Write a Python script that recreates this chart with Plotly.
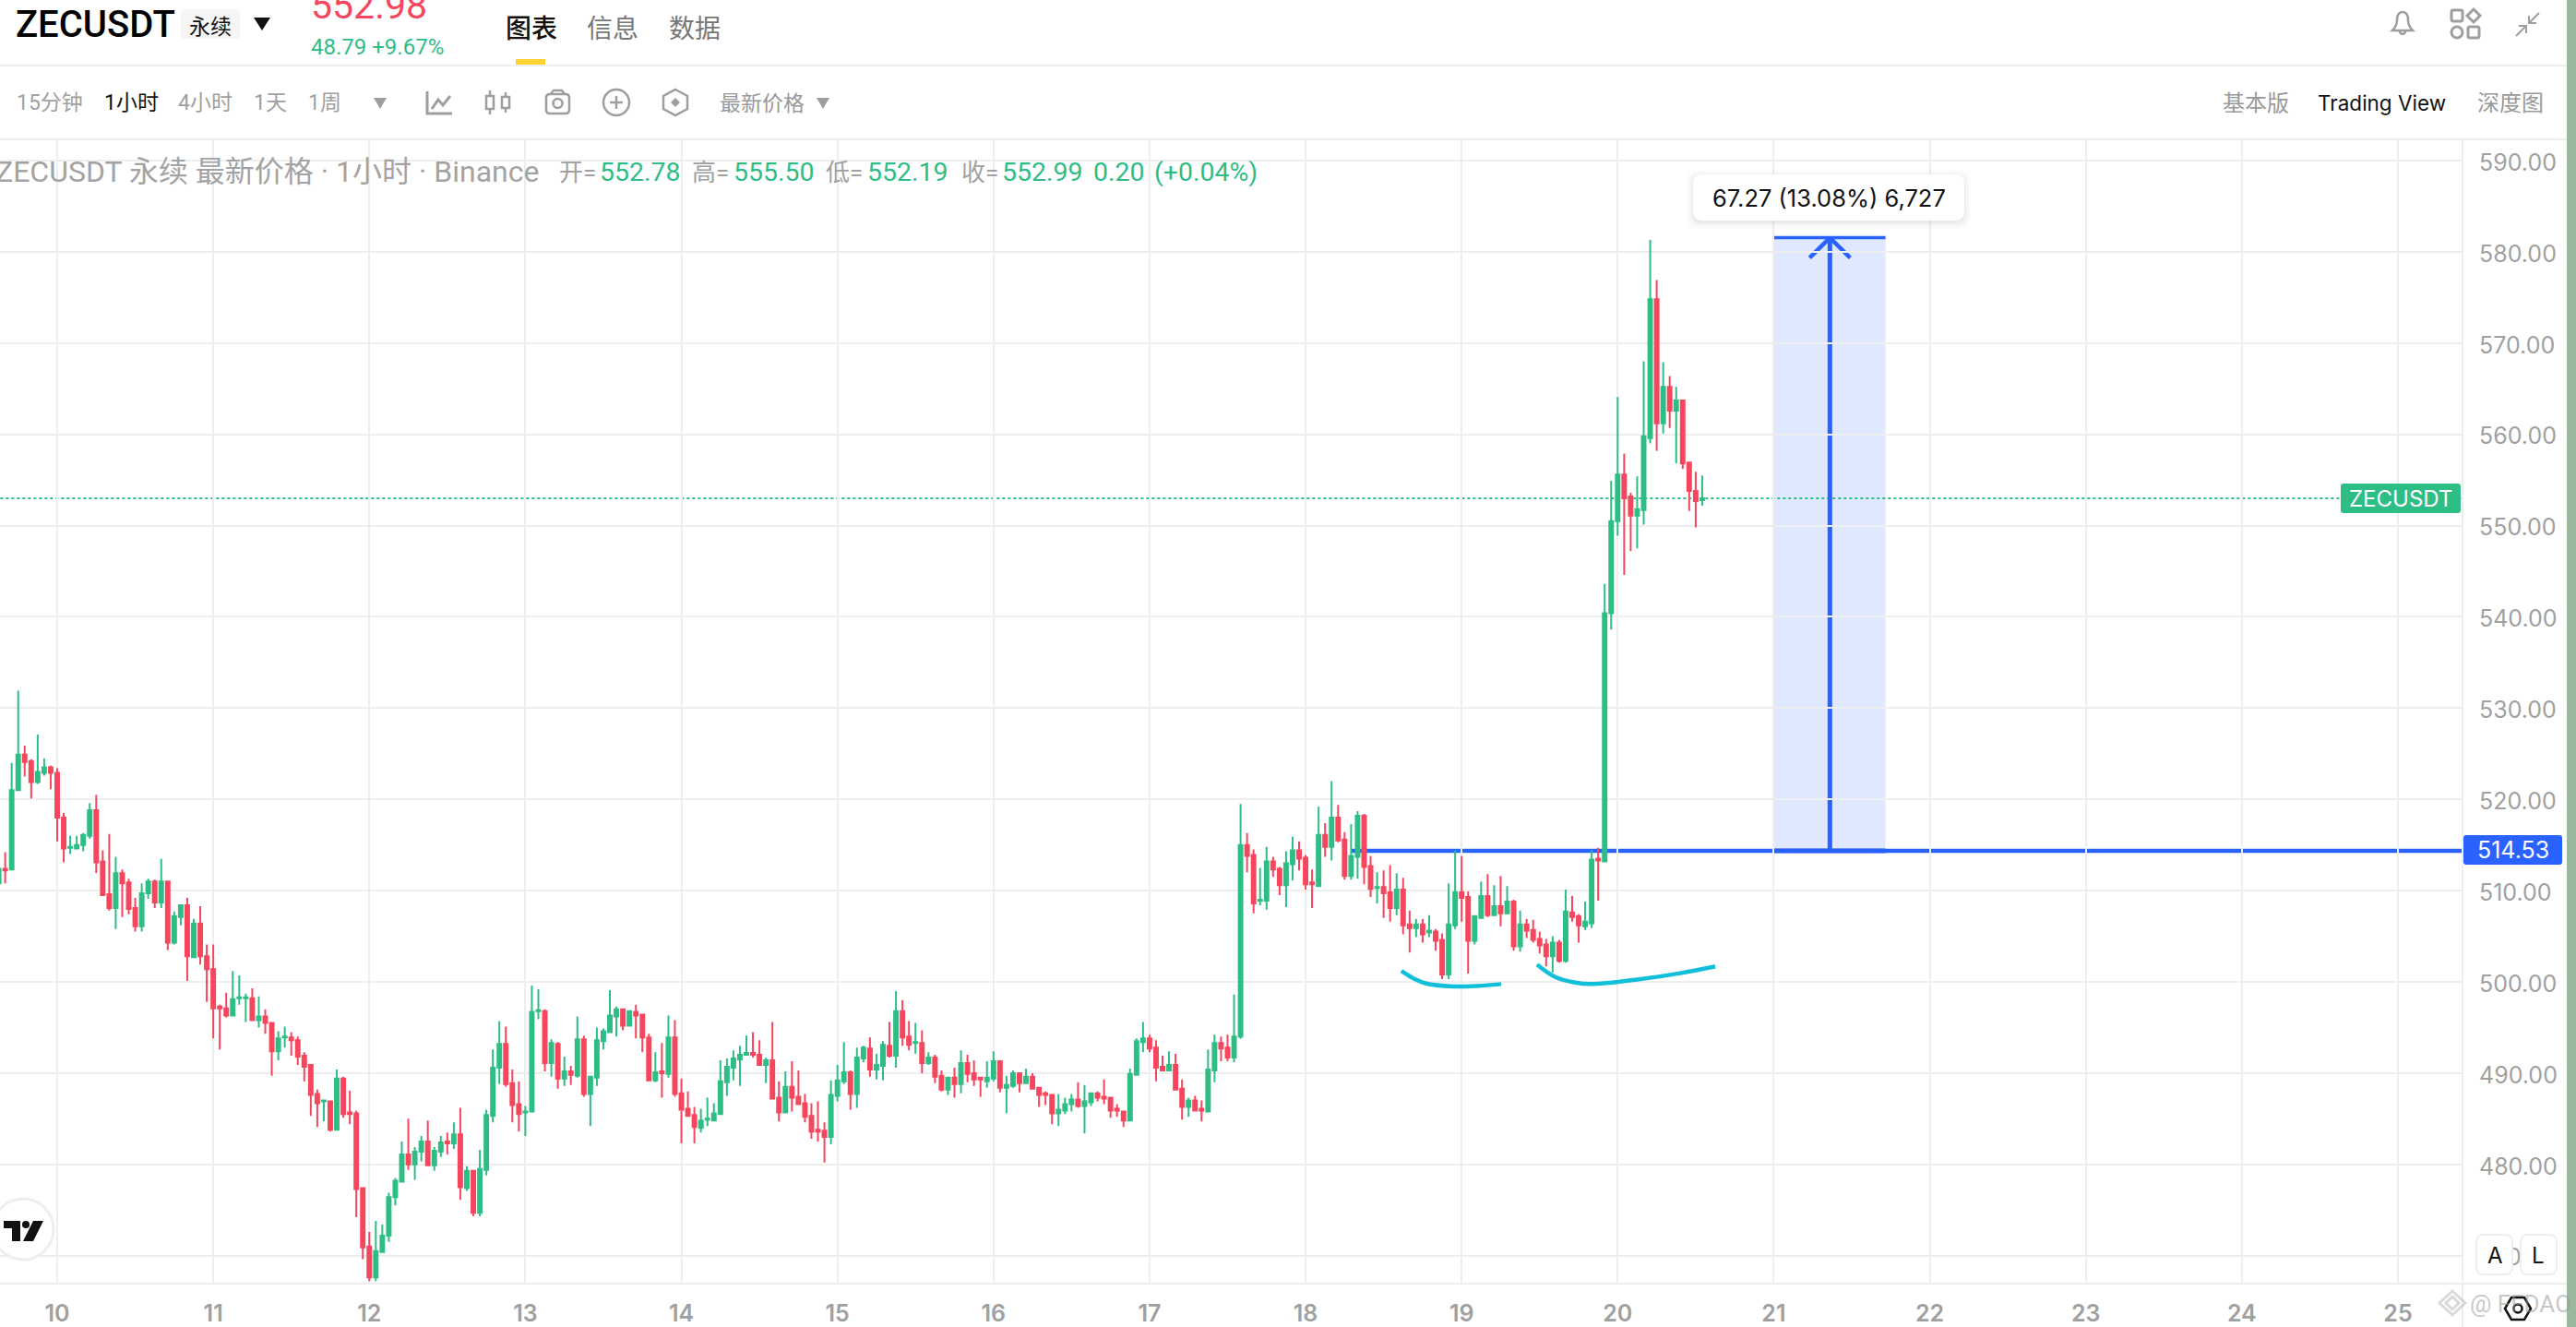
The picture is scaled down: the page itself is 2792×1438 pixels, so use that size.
import re
from datetime import datetime, timedelta
import pandas as pd
import plotly.graph_objects as go

W, H = 2792, 1438
GREEN, RED, BLUE, GRID = "#2EBD85", "#F6465D", "#2962FF", "#EEEEEE"
GRAY = "#A0A0A0"
CJK = "Inter, 'Noto Sans CJK SC', sans-serif"

first_bar = "2025-11-09 15:00"
opens = [510.8,512.4,512.3,521.0,524.9,524.2,521.9,522.9,523.5,522.9,
518.0,514.7,514.6,515.0,516.0,518.8,513.2,509.6,508.1,511.9,
510.9,508.1,506.1,509.7,511.0,508.7,511.0,504.3,507.1,508.4,
502.7,506.4,502.8,501.4,497.3,497.1,496.3,498.2,498.2,498.2,
495.8,496.2,495.5,492.4,493.9,493.9,493.6,491.9,490.9,487.7,
486.9,486.9,483.8,489.4,485.7,485.6,477.4,471.0,467.6,470.4,
472.2,476.4,478.1,481.1,480.0,481.4,482.5,479.9,481.4,482.5,
482.3,483.3,477.4,479.3,474.7,479.4,485.3,490.6,493.2,488.9,
486.6,485.7,485.8,496.8,496.8,491.1,493.2,489.4,490.2,489.7,
493.7,487.7,489.5,493.5,494.5,496.2,497.0,495.2,496.7,496.4,
493.9,489.2,490.2,489.9,493.9,487.8,486.1,485.4,484.0,484.9,
484.8,485.5,489.0,490.6,491.5,492.0,492.2,492.0,490.9,491.4,
487.3,485.7,488.5,487.4,486.7,485.3,483.8,483.7,483.0,487.5,
489.1,490.1,487.7,491.6,492.7,490.4,490.8,493.0,491.9,496.8,
494.0,493.3,493.3,491.1,491.7,489.7,488.2,489.5,488.8,491.1,
490.0,489.5,489.1,489.4,491.3,488.4,488.6,490.0,488.9,489.6,
488.4,487.8,487.6,485.6,485.9,486.6,487.1,486.4,486.8,487.8,
487.4,487.3,486.1,485.8,484.8,489.8,493.4,493.8,492.8,490.7,
490.3,490.9,488.3,486.3,487.0,486.1,485.8,490.3,493.3,492.8,
491.7,494.0,515.0,513.9,508.9,508.9,513.2,512.4,510.6,512.9,
514.4,513.6,510.9,510.5,516.1,514.8,518.0,515.6,511.6,513.7,
518.2,512.7,510.3,510.4,509.8,508.1,510.1,506.3,505.9,506.3,
505.4,505.5,504.6,500.8,506.2,509.8,509.3,504.5,507.0,509.4,
507.3,508.3,507.5,508.8,503.9,506.3,505.7,504.7,504.1,502.8,
504.3,502.3,507.6,507.2,506.1,506.4,513.5,513.2,540.4,550.5,
555.6,553.2,551.1,551.7,559.6,574.8,561.2,565.2,562.6,563.7,
556.9,553.8,552.78]
highs = [512.4,514.2,524.0,531.9,525.9,524.4,527.1,524.5,523.7,523.4,
518.5,516.0,516.0,516.3,519.6,520.5,514.4,516.2,513.7,512.3,
511.3,509.2,510.8,511.3,511.2,513.5,511.1,507.7,508.4,509.2,
506.9,508.3,504.1,504.1,497.5,498.8,501.2,500.7,498.7,499.3,
498.4,497.0,495.5,494.6,495.1,494.5,494.0,492.3,491.0,488.2,
487.1,486.9,490.4,489.6,488.1,485.9,477.5,472.6,473.8,473.4,
476.9,478.5,482.5,485.0,481.9,483.1,484.8,481.9,483.1,483.5,
484.6,486.2,479.8,479.4,481.6,486.0,492.6,495.7,495.1,490.4,
489.1,486.4,499.6,499.2,497.0,493.7,493.4,491.8,490.8,496.2,
494.1,489.7,495.0,494.9,499.1,497.3,497.1,496.9,497.5,496.5,
494.3,492.3,493.3,496.3,495.8,489.4,488.0,486.3,486.1,487.3,
486.7,491.4,491.6,492.5,493.0,494.1,494.5,493.6,491.7,495.6,
489.1,490.2,491.3,490.3,487.7,486.7,486.9,484.6,489.2,490.9,
493.4,490.3,492.8,493.0,493.9,492.1,493.5,495.6,499.0,498.0,
495.7,495.5,494.7,492.3,492.0,490.3,489.5,490.6,492.5,492.0,
491.4,489.6,491.3,492.4,491.4,489.7,490.3,490.0,490.5,490.0,
488.5,488.0,487.6,487.7,487.3,487.7,489.0,488.7,487.9,488.0,
489.3,487.4,486.6,485.9,490.5,493.8,495.6,494.2,493.6,491.9,
492.4,492.1,489.3,487.3,487.5,487.0,492.6,494.2,494.0,494.2,
498.6,519.5,516.3,514.5,512.5,514.8,513.7,512.6,514.3,515.9,
515.4,513.9,512.3,519.2,517.4,522.0,519.4,516.4,517.3,518.7,
518.4,513.8,512.0,512.2,512.8,511.9,511.4,507.8,506.9,506.9,
507.3,505.8,505.3,510.8,514.4,513.8,509.9,507.3,511.0,511.8,
510.6,511.6,510.5,509.0,507.8,506.9,506.8,505.5,504.7,505.0,
504.6,510.1,509.4,507.4,508.8,514.4,514.7,543.6,554.9,564.1,
557.9,553.6,555.4,568.0,581.3,576.9,567.9,566.4,565.2,563.8,
556.9,555.9,555.50]
lows = [509.5,510.8,512.3,521.0,522.5,520.1,521.7,522.6,521.1,515.4,
513.1,514.0,514.5,514.3,515.7,511.9,509.4,507.8,505.8,507.1,
507.4,505.5,505.5,509.1,508.1,508.1,503.5,504.1,506.2,500.1,
502.6,501.9,497.8,493.8,492.6,496.1,496.3,497.5,495.6,495.8,
495.0,494.3,489.7,491.4,492.8,491.9,490.9,489.1,485.3,484.1,
484.7,483.6,483.8,485.1,484.4,474.2,469.6,467.2,467.2,470.4,
471.5,475.5,478.1,479.4,478.3,480.3,479.9,479.3,480.8,481.1,
481.7,476.1,477.1,474.3,474.3,478.8,484.6,488.8,488.5,484.6,
483.6,483.1,485.7,495.9,490.2,489.6,488.3,488.6,488.7,489.5,
487.4,484.2,488.6,492.6,494.4,494.0,494.7,495.2,493.8,492.3,
489.2,489.0,487.3,489.5,487.4,482.3,485.3,482.3,483.5,484.2,
484.8,485.4,487.5,489.2,488.6,492.0,491.7,490.8,488.9,487.1,
484.7,485.6,485.8,486.6,484.6,482.8,482.5,480.2,482.2,486.9,
488.8,486.0,486.2,491.2,489.6,489.3,489.2,491.7,490.6,493.0,
492.5,492.1,490.0,490.9,488.9,488.0,487.6,487.3,487.8,489.0,
488.6,487.4,488.4,489.1,487.9,485.6,488.4,487.9,488.8,488.3,
486.3,486.5,484.4,484.2,485.5,485.8,486.2,483.4,486.4,486.9,
486.6,485.1,485.2,484.1,484.8,489.8,492.3,492.3,489.1,490.2,
490.3,488.1,484.9,485.2,485.9,484.7,485.8,489.0,491.3,491.3,
491.2,493.75,512.0,507.5,508.4,507.9,511.5,509.5,508.2,511.1,
512.2,510.1,508.1,510.5,513.7,513.3,515.3,511.2,511.2,511.3,
510.7,509.3,508.6,507.0,506.6,507.3,505.2,503.2,504.9,504.3,
504.9,503.4,500.3,500.3,505.8,506.6,500.9,504.1,507.0,507.1,
507.3,506.1,507.5,503.4,503.3,504.8,504.3,503.1,501.7,501.0,
502.1,502.1,506.6,504.3,505.7,505.9,508.9,513.2,538.6,548.9,
544.6,547.2,547.5,550.1,559.0,558.2,560.1,560.7,556.8,556.2,
551.6,549.8,552.19]
closes = [512.4,512.2,521.0,524.9,524.1,521.9,523.0,523.5,522.9,518.0,
514.6,514.8,515.0,516.1,518.8,513.1,509.5,508.1,511.9,510.8,
508.0,506.1,509.7,511.0,508.7,511.0,504.3,507.2,508.4,502.8,
506.4,502.8,501.4,497.1,497.1,496.3,498.1,498.3,498.3,495.8,
496.2,495.5,492.4,493.8,494.0,493.6,491.8,490.7,487.6,486.7,
487.0,483.8,489.4,485.5,485.5,477.3,470.9,467.6,470.5,472.2,
476.4,478.2,481.1,480.0,481.4,482.5,479.9,481.5,482.4,482.3,
483.3,477.5,479.3,474.7,479.5,485.4,490.6,493.2,488.8,486.5,
485.5,485.8,496.7,496.9,491.1,493.3,489.4,490.2,489.8,493.7,
487.7,489.6,493.6,494.6,496.3,497.0,495.2,496.8,496.3,493.9,
489.2,490.1,490.0,493.9,487.7,486.0,485.3,484.1,484.8,485.0,
485.6,489.1,490.7,491.6,492.0,492.2,492.0,490.9,491.4,487.2,
485.7,488.5,487.3,486.6,485.2,483.6,483.6,483.0,487.6,489.2,
490.1,487.7,491.7,492.8,490.4,490.9,493.1,491.9,496.8,493.9,
493.1,493.4,491.1,491.7,489.6,488.2,489.5,488.8,491.1,489.9,
489.3,489.3,489.5,491.3,488.4,488.7,490.0,488.9,489.6,488.3,
487.6,487.6,485.6,486.0,486.6,487.1,486.4,486.9,487.8,487.3,
487.2,485.9,485.9,484.8,489.9,493.5,493.8,492.7,490.6,490.3,
490.9,488.2,486.3,487.0,485.9,485.9,490.4,493.3,492.7,491.7,
494.0,515.0,513.8,508.6,509.0,513.2,512.3,510.6,513.0,514.4,
513.5,510.7,510.7,516.1,514.8,518.0,515.5,511.6,513.8,518.2,
512.6,510.2,510.4,509.7,508.1,510.1,506.2,505.9,506.3,505.2,
505.6,504.5,500.8,506.3,509.8,509.2,504.5,507.2,509.4,507.3,
508.3,507.5,508.8,503.9,506.3,505.6,504.6,504.0,502.8,504.3,
502.3,507.7,507.1,506.2,506.6,513.4,513.3,540.4,550.5,555.6,
553.0,551.1,551.8,559.8,574.8,561.2,565.2,562.6,563.7,556.8,
553.8,552.7,552.99]
assert len(opens) == len(highs) == len(lows) == len(closes) == 263

day_ticks = list(range(10, 26))
price_ticks = list(range(470, 600, 10))
last_price = 552.98
level = 514.35
measure_top = 581.55
measure_days = (21.0, 21.716, 21.36)
head_dx, head_dy = 0.13, 2.2
level_start_day = 18.29
curve_a_days = [18.614, 18.70, 18.767, 18.948, 19.10, 19.253]
curve_a_prices = [501.2, 500.3, 499.85, 499.5, 499.55, 499.76]
curve_b_days = [19.483, 19.603, 19.72, 19.828, 20.144, 20.40, 20.625]
curve_b_prices = [501.9, 500.5, 499.95, 499.76, 500.3, 500.95, 501.7]


def day(d):
    return datetime(2025, 11, 1) + timedelta(days=d - 1)


times = pd.date_range(first_bar, periods=len(opens), freq="h")

fig = go.Figure()
fig.add_trace(go.Candlestick(
    x=times, open=opens, high=highs, low=lows, close=closes,
    increasing=dict(line=dict(color=GREEN, width=2), fillcolor=GREEN),
    decreasing=dict(line=dict(color=RED, width=2), fillcolor=RED),
    whiskerwidth=0, showlegend=False, hoverinfo="skip"))
for ds, ps in ((curve_a_days, curve_a_prices), (curve_b_days, curve_b_prices)):
    fig.add_trace(go.Scatter(x=[day(d) for d in ds], y=ps, mode="lines", showlegend=False,
                             hoverinfo="skip", line=dict(color="#12BFDB", width=4.5, shape="spline", smoothing=1)))


def pth(s):
    out, i = [], 0
    for t in re.findall(r"[A-Za-z]|-?\d+\.?\d*", s):
        if t.isalpha():
            out.append(t)
        else:
            v = float(t)
            out.append(f"{(v / W if i % 2 == 0 else 1 - v / H):.6f}")
            i += 1
    return " ".join(out)


shapes, notes = [], []


def path(s, line=None, width=2, fill=None, layer="above"):
    shapes.append(dict(type="path", xref="paper", yref="paper", path=pth(s), layer=layer,
                       line=dict(color=line or "rgba(0,0,0,0)", width=width if line else 0),
                       fillcolor=fill or "rgba(0,0,0,0)"))


def rrect(x0, y0, x1, y1, r):
    return (f"M{x0+r} {y0} L{x1-r} {y0} Q{x1} {y0} {x1} {y0+r} L{x1} {y1-r} Q{x1} {y1} {x1-r} {y1} "
            f"L{x0+r} {y1} Q{x0} {y1} {x0} {y1-r} L{x0} {y0+r} Q{x0} {y0} {x0+r} {y0} Z")


def circle(cx, cy, r, line=None, width=2, fill=None):
    shapes.append(dict(type="circle", xref="paper", yref="paper", x0=(cx - r) / W, x1=(cx + r) / W,
                       y0=1 - (cy + r) / H, y1=1 - (cy - r) / H, layer="above",
                       line=dict(color=line or "rgba(0,0,0,0)", width=width if line else 0),
                       fillcolor=fill or "rgba(0,0,0,0)"))


def rect(x0, y0, x1, y1, fill):
    shapes.append(dict(type="rect", xref="paper", yref="paper", x0=x0 / W, x1=x1 / W,
                       y0=1 - y1 / H, y1=1 - y0 / H, fillcolor=fill, line=dict(width=0), layer="above"))


def txt(x, y, s, size, color, anchor="left", weight=400, family=CJK, bg=None):
    notes.append(dict(xref="paper", yref="paper", x=x / W, y=1 - y / H, text=s, showarrow=False,
                      xanchor=anchor, yanchor="middle", borderpad=0, bgcolor=bg,
                      font=dict(size=size, color=color, family=family, weight=weight)))


def data_line(x0, y0, x1, y1, color, width, dash=None):
    shapes.append(dict(type="line", xref="x", yref="y", x0=x0, y0=y0, x1=x1, y1=y1, layer="below",
                       line=dict(color=color, width=width, dash=dash)))


# chart drawings
x_left, x_right, x_mid = [day(d) for d in measure_days]
shapes.append(dict(type="rect", xref="x", yref="y", x0=x_left, x1=x_right, y0=level, y1=measure_top,
                   layer="below", fillcolor="rgba(41,98,255,0.15)", line=dict(width=0)))
data_line(day(9.6), last_price, day(25.5), last_price, GREEN, 2, "dot")
data_line(day(level_start_day), level, day(25.5), level, BLUE, 4.5)
data_line(x_left, measure_top, x_right, measure_top, BLUE, 3.5)
data_line(x_left, level, x_right, level, BLUE, 5)
data_line(x_mid, level, x_mid, measure_top, BLUE, 5)
data_line(day(measure_days[2] - head_dx), measure_top - head_dy, x_mid, measure_top, BLUE, 4.5)
data_line(day(measure_days[2] + head_dx), measure_top - head_dy, x_mid, measure_top, BLUE, 4.5)

# frame
LINE = "#EEEEEE"
rect(0, 70, 2782, 72, LINE)
rect(0, 150, 2782, 152, LINE)
rect(0, 1390, 2782, 1392, LINE)
rect(2668, 151, 2670, 1438, LINE)
rect(2782, 0, 2792, 1438, "#9BB89C")

# header row
txt(16, 27, "ZECUSDT", 40, "#000000", weight=500, family="Roboto")
path(rrect(196, 10, 260, 42, 5), fill="#F5F5F5")
txt(228, 27, "永续", 23, "#111111", "center", family="Noto Sans CJK SC")
path("M275 19 L293 19 L284 33 Z", fill="#111111")
txt(336, 6, "552.98", 41, RED, family="Roboto")
txt(336, 51, "48.79 +9.67%", 24, GREEN, family="Roboto")
txt(547, 29, "图表", 28, "#111111", weight=500, family="Noto Sans CJK SC")
txt(635, 29, "信息", 28, "#777777", family="Noto Sans CJK SC")
txt(724, 29, "数据", 28, "#777777", family="Noto Sans CJK SC")
rect(559, 64, 591, 70, "#FCD535")

# toolbar row
ICON = "#9E9E9E"
for x, s, c in ((17, "15分钟", GRAY), (112, "1小时", "#111111"), (192, "4小时", GRAY), (274, "1天", GRAY), (333, "1周", GRAY)):
    txt(x, 111, s, 23, c, family="Roboto, 'Noto Sans CJK SC'")
path("M405 106 L419 106 L412 118 Z", fill=ICON)
path("M463 99 L463 123 L490 123 M468 118 L475 108 L480 114 L488 104", line=ICON, width=3)
path("M531 98 L531 124 M548 100 L548 122", line=ICON, width=2.5)
path("M527 104 L535 104 L535 118 L527 118 Z M544 105 L552 105 L552 117 L544 117 Z", line=ICON, width=2.5, fill="#FFFFFF")
path(rrect(592, 102, 617, 123, 4), line=ICON, width=2.5)
path("M597 102 L600 98 L609 98 L612 102", line=ICON, width=2.5)
circle(604.5, 112, 5, line=ICON, width=2.5)
circle(668, 111, 14, line=ICON, width=2.5)
path("M661 111 L675 111 M668 104 L668 118", line=ICON, width=2.5)
path("M732 97 L745 104 L745 118 L732 125 L719 118 L719 104 Z", line=ICON, width=2.5)
path("M732 106 L737 111 L732 116 L727 111 Z", fill=ICON)
txt(779, 110, "最新价格", 23, "#999999", family="Noto Sans CJK SC")
path("M885 106 L899 106 L892 118 Z", fill=ICON)
txt(2408, 110, "基本版", 24, "#999999", family="Noto Sans CJK SC")
txt(2511, 112, "Trading View", 22.5, "#111111", family="Inter")
txt(2684, 110, "深度图", 24, "#999999", family="Noto Sans CJK SC")

# top right icons
path("M2593 33 Q2598 28 2598 22 Q2598 13 2604 13 Q2610 13 2610 22 Q2610 28 2615 33 Z M2600 33 Q2604 41 2608 33", line=ICON, width=2.5)
path(rrect(2657, 11, 2669, 23, 2), line=ICON, width=3)
path("M2681 10 L2688 17 L2681 24 L2674 17 Z", line=ICON, width=3)
circle(2663, 35, 6, line=ICON, width=3)
path(rrect(2675, 29, 2687, 41, 2), line=ICON, width=3)
path("M2752 14 L2741 25 M2741 17 L2741 25 L2749 25 M2727 39 L2738 28 M2730 28 L2738 28 L2738 36", line=ICON, width=2)

# legend row
txt(-6, 186, "ZECUSDT 永续 最新价格 · 1小时 · Binance", 32, "#A3A3A3", family="Roboto, 'Noto Sans CJK SC'")
for x, s in ((605, "开="), (749, "高="), (894, "低="), (1041, "收=")):
    txt(x, 187, s, 26, GRAY, family="Roboto, 'Noto Sans CJK SC'")
for x, s in ((649, "552.78"), (794, "555.50"), (939, "552.19"), (1085, "552.99"), (1184, "0.20"), (1250, "(+0.04%)")):
    txt(x, 187, s, 28.5, GREEN, family="Roboto")

# tooltip
for grow, alpha in ((7, 0.012), (5, 0.015), (3, 0.02), (1, 0.03)):
    path(rrect(1835 - grow, 189 - grow + 2, 2129 + grow, 239 + grow + 2, 10), fill=f"rgba(0,0,0,{alpha})")
path(rrect(1835, 189, 2129, 239, 10), fill="#FFFFFF")
txt(1982, 214, "67.27 (13.08%) 6,727", 25.5, "#111111", "center", family="Inter")

# price tags
path(rrect(2537, 524, 2667, 556, 3), fill=GREEN)
txt(2602, 540, "ZECUSDT", 24, "#FFFFFF", "center", family="Inter")
path(rrect(2670, 905, 2777, 937, 3), fill=BLUE)
txt(2724, 921, "514.53", 25, "#FFFFFF", "center", family="Inter")

# TradingView badge
circle(25, 1332, 33, line="#EEEEEE", width=3, fill="#FFFFFF")
path("M4 1323 L22 1323 L22 1345 L13 1345 L13 1331 L4 1331 Z", fill="#111111")
circle(28, 1327, 4, fill="#111111")
path("M36 1323 L47 1323 L36 1345 L25 1345 Z", fill="#111111")

# scale buttons
path(rrect(2684, 1338, 2723, 1381, 8), line="#EEEEEE", width=2, fill="#FFFFFF")
path(rrect(2732, 1338, 2771, 1381, 8), line="#EEEEEE", width=2, fill="#FFFFFF")
txt(2704, 1360, "A", 24, "#111111", "center", family="Inter")
txt(2751, 1360, "L", 24, "#111111", "center", family="Inter")

# watermark and settings icon
txt(2676, 1413, "@ FFDAO", 26, "rgba(150,150,150,0.55)", family="Roboto")
path("M2658 1399 L2672 1412 L2658 1425 L2644 1412 Z M2658 1405 L2665 1412 L2658 1419 L2651 1412 Z", line="rgba(170,170,170,0.45)", width=3)
path("M2722 1406 L2736 1406 L2743 1418 L2736 1430 L2722 1430 L2715 1418 Z", line="#111111", width=2.5)
circle(2729, 1418, 4.5, line="#111111", width=2.5)

fig.update_layout(
    width=W, height=H, autosize=False, margin=dict(l=0, r=0, t=0, b=0),
    paper_bgcolor="#FFFFFF", plot_bgcolor="#FFFFFF", boxgap=0.2,
    shapes=shapes, annotations=notes, showlegend=False,
    xaxis=dict(domain=[0, 2669 / W], range=[day(9.6334), day(25.414)], rangeslider=dict(visible=False),
               tickmode="array", tickvals=[day(d) for d in day_ticks], ticktext=[str(d) for d in day_ticks],
               showgrid=True, gridcolor=GRID, gridwidth=2, zeroline=False, showline=False,
               ticks="outside", ticklen=10, tickcolor="rgba(0,0,0,0)",
               tickfont=dict(size=25, color=GRAY, family="Inter", weight=600)),
    yaxis=dict(domain=[1 - 1391 / H, 1 - 151 / H], range=[466.93, 592.33], side="right",
               tickmode="array", tickvals=price_ticks, ticktext=[f"{p:.2f}" for p in price_ticks],
               showgrid=True, gridcolor=GRID, gridwidth=2, zeroline=False, showline=False,
               ticks="outside", ticklen=12, tickcolor="rgba(0,0,0,0)", ticklabelshift=2,
               tickfont=dict(size=25, color=GRAY, family="Inter")),
)
fig.write_html("out.html", config={"displayModeBar": False},
               post_script="document.body.style.margin='0';document.body.style.overflow='hidden';")
